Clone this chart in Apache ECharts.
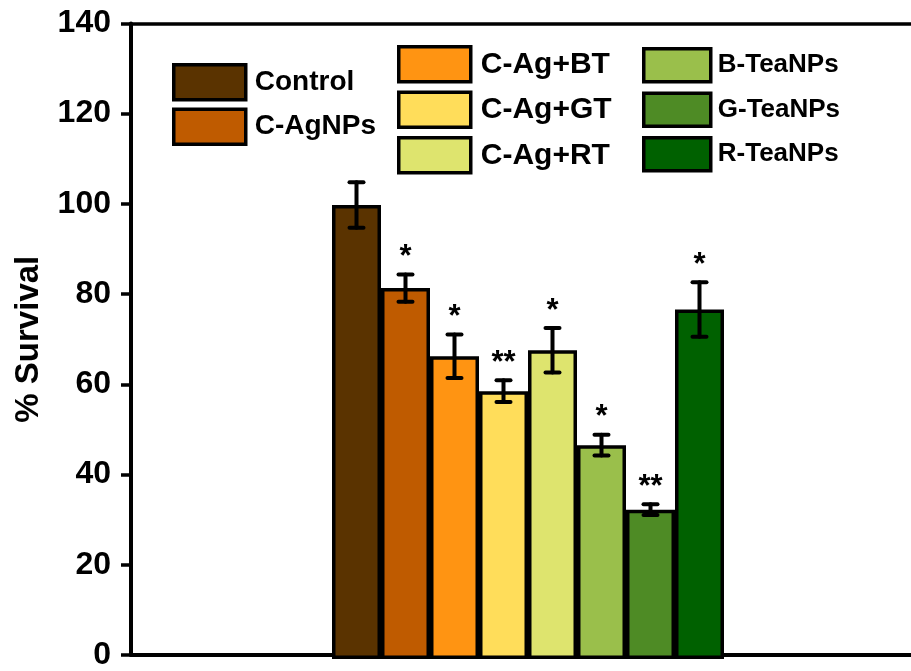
<!DOCTYPE html>
<html>
<head>
<meta charset="utf-8">
<script src="https://cdn.jsdelivr.net/npm/echarts@6/dist/echarts.min.js"></script>
<style>
html,body{margin:0;padding:0;background:#fff;}
#main{width:911px;height:671px;}
</style>
</head>
<body>
<div id="main"></div>
<script>
var categories = ['Control','C-AgNPs','C-Ag+BT','C-Ag+GT','C-Ag+RT','B-TeaNPs','G-TeaNPs','R-TeaNPs'];
var values = [100, 81.7, 66.7, 59.0, 68.0, 47.1, 32.9, 77.0];
var errors = [5.0, 3.0, 4.8, 2.4, 4.9, 2.3, 1.2, 6.0];
var marks = ['', '*', '*', '**', '*', '*', '**', '*'];
var colors = ['#5A3300','#BF5B00','#FF9412','#FFDD5A','#DEE46E','#9ABF4B','#4E8B25','#006100'];
var legendCols = [['Control','C-AgNPs'],['C-Ag+BT','C-Ag+GT','C-Ag+RT'],['B-TeaNPs','G-TeaNPs','R-TeaNPs']];

var FONT = '"Liberation Sans", Arial, sans-serif';
var chart = echarts.init(document.getElementById('main'), null, {renderer:'canvas'});

var barSeries = categories.map(function(name, i){
  return {
    name: name,
    type: 'bar',
    xAxisIndex: 1,
    yAxisIndex: 1,
    stack: 'all',
    barWidth: '100%',
    data: values.map(function(v, j){ return j === i ? v : '-'; }),
    itemStyle: { color: colors[i], borderColor: '#000', borderWidth: 3.5 },
    emphasis: { disabled: true },
    z: 2
  };
});

var errSeries = {
  type: 'custom',
  xAxisIndex: 1,
  yAxisIndex: 1,
  data: values.map(function(v, i){ return [i, v, errors[i]]; }),
  z: 5,
  silent: true,
  renderItem: function(params, api){
    var i = api.value(0), v = api.value(1), e = api.value(2);
    var m = marks[params.dataIndex];
    var top = api.coord([i, v + e]);
    var bot = api.coord([i, v - e]);
    var x = top[0], hw = 7;
    var st = { stroke: '#000', lineWidth: 4, lineCap: 'round' };
    var children = [
      { type: 'line', shape: { x1: x, y1: top[1], x2: x, y2: bot[1] }, style: st },
      { type: 'line', shape: { x1: x - hw, y1: top[1], x2: x + hw, y2: top[1] }, style: st },
      { type: 'line', shape: { x1: x - hw, y1: bot[1], x2: x + hw, y2: bot[1] }, style: st }
    ];
    if (m) {
      children.push({ type: 'text', style: { text: m, x: x, y: top[1] - 17, align: 'center', verticalAlign: 'middle', font: 'bold 31px ' + FONT, fill: '#000' } });
    }
    return { type: 'group', children: children };
  }
};

function legendFor(col, left, top, w, h, gap, fs, textGap){
  return {
    data: col,
    orient: 'vertical',
    left: left,
    top: top,
    itemWidth: w,
    itemHeight: h,
    itemGap: gap,
    icon: 'rect',
    selectedMode: false,
    padding: 0,
    itemStyle: { borderColor: '#000', borderWidth: 3.5 },
    textStyle: { fontFamily: FONT, fontWeight: 'bold', fontSize: fs, color: '#000', padding: [0,0,0,textGap] }
  };
}

var option = {
  animation: false,
  backgroundColor: '#fff',
  grid: [
    { left: 131, right: -20, top: 23.4, bottom: 12, containLabel: false },
    { left: 332, width: 392, top: 23.4, bottom: 12, containLabel: false }
  ],
  legend: [
    legendFor(legendCols[0], 172, 63, 72, 35, 6, 28, 4),
    legendFor(legendCols[1], 397, 45, 72, 35, 7, 30, 5),
    legendFor(legendCols[2], 642, 47, 67, 33, 8, 26, 2)
  ],
  xAxis: [
    { type: 'category', gridIndex: 0, data: [''], position: 'bottom',
      axisLine: { show: true, lineStyle: { color: '#000', width: 4 } },
      axisTick: { show: false }, axisLabel: { show: false }, splitLine: { show: false } },
    { type: 'category', gridIndex: 1, data: categories, show: false },
    { type: 'category', gridIndex: 0, data: [''], position: 'top',
      axisLine: { show: true, onZero: false, lineStyle: { color: '#000', width: 3.5 } },
      axisTick: { show: false }, axisLabel: { show: false }, splitLine: { show: false } }
  ],
  yAxis: [
    { type: 'value', gridIndex: 0, min: 0, max: 140, interval: 20,
      name: '% Survival', nameLocation: 'middle', nameRotate: 90, nameGap: 86,
      nameTextStyle: { fontFamily: FONT, fontWeight: 'bold', fontSize: 33, color: '#000' },
      axisLine: { show: true, lineStyle: { color: '#000', width: 4 } },
      axisTick: { show: true, inside: false, length: 10, lineStyle: { color: '#000', width: 3.5 } },
      axisLabel: { margin: 20, fontFamily: FONT, fontWeight: 'bold', fontSize: 32, color: '#000', padding: [7, 0, 0, 0] },
      splitLine: { show: false } },
    { type: 'value', gridIndex: 1, min: 0, max: 140, interval: 20, show: false, splitLine: { show: false } }
  ],
  series: barSeries.concat([errSeries])
};
chart.setOption(option);
</script>
</body>
</html>
